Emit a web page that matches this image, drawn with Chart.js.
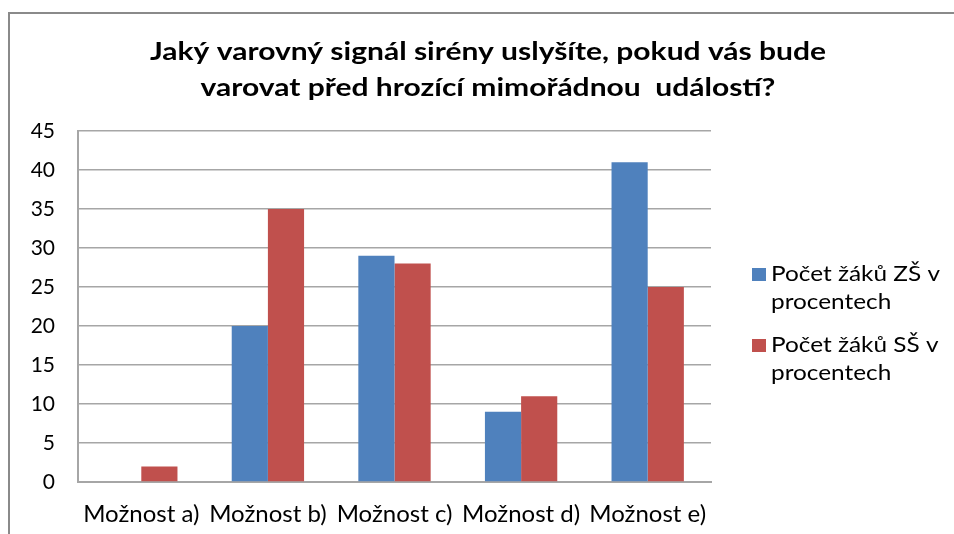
<!DOCTYPE html>
<html><head><meta charset="utf-8">
<script src="https://cdn.jsdelivr.net/npm/chart.js@4/dist/chart.umd.min.js"></script>
<style>html,body{margin:0;padding:0;background:#fff}#wrap{width:954px;height:534px;position:relative}</style>
</head><body><div id="wrap"><canvas id="c" width="954" height="534"></canvas></div>
<script>
const categories = ["Možnost a)", "Možnost b)", "Možnost c)", "Možnost d)", "Možnost e)"];
const zsValues = [0, 20, 29, 9, 41];
const ssValues = [2, 35, 28, 11, 25];
const seriesNames = [["Počet žáků ZŠ v", "procentech"], ["Počet žáků SŠ v", "procentech"]];
const titleLines = ["Jaký varovný signál sirény uslyšíte, pokud vás bude", "varovat před hrozící mimořádnou  událostí?"];
const yTicks = [0, 5, 10, 15, 20, 25, 30, 35, 40, 45];

const FONT = "Lato, 'Open Sans', sans-serif";

function scaledText(ctx, text, x, y, sx, align) {
  ctx.save();
  ctx.translate(x, y);
  ctx.scale(sx, 1);
  ctx.textAlign = align;
  ctx.fillText(text, 0, 0);
  ctx.restore();
}

const decor = {
  id: 'decor',
  beforeDraw(chart) {
    const ctx = chart.ctx;
    ctx.save();
    ctx.strokeStyle = '#8a8a8a';
    ctx.lineWidth = 2;
    ctx.beginPath();
    ctx.moveTo(9, 540); ctx.lineTo(9, 13); ctx.lineTo(960, 13);
    ctx.stroke();
    ctx.restore();
  },
  afterDraw(chart) {
    const ctx = chart.ctx;
    ctx.save();
    ctx.fillStyle = '#000';
    ctx.textBaseline = 'alphabetic';
    ctx.font = "bold 24px " + FONT;
    scaledText(ctx, titleLines[0], 488, 60, 1.25, 'center');
    scaledText(ctx, titleLines[1], 488, 96, 1.25, 'center');
    // legend
    ctx.font = "21px " + FONT;
    const starts = [281, 352];
    chart.data.datasets.forEach((ds, i) => {
      const y0 = starts[i];
      ctx.fillStyle = ds.backgroundColor;
      ctx.fillRect(752, y0 - 13, 14, 13);
      ctx.fillStyle = '#000';
      seriesNames[i].forEach((line, j) => scaledText(ctx, line, 771, y0 + j * 28, 1.16, 'left'));
    });
    ctx.restore();
  }
};

new Chart(document.getElementById('c'), {
  type: 'bar',
  data: {
    labels: categories,
    datasets: [
      { label: seriesNames[0].join(' '), data: zsValues, backgroundColor: '#4F81BD' },
      { label: seriesNames[1].join(' '), data: ssValues, backgroundColor: '#C0504D' }
    ]
  },
  options: {
    responsive: false,
    animation: false,
    events: [],
    layout: { padding: { left: 8, right: 243, top: 131, bottom: 0 } },
    plugins: { legend: { display: false }, title: { display: false }, tooltip: { enabled: false } },
    datasets: { bar: { categoryPercentage: 2 / 3.5, barPercentage: 1 } },
    scales: {
      x: {
        grid: { display: false, drawTicks: false },
        border: { color: '#a6a6a6', width: 2 },
        ticks: { color: '#000', font: { family: FONT, size: 24 }, padding: 18, maxRotation: 0, autoSkip: false },
        afterFit(s) { s.height = 52; }
      },
      y: {
        min: 0, max: 45,
        afterBuildTicks(s) { s.ticks = yTicks.map(v => ({ value: v })); },
        grid: { color: '#a6a6a6', lineWidth: 1.5, drawTicks: false },
        border: { color: '#a6a6a6', width: 2 },
        ticks: { color: '#000', font: { family: FONT, size: 21 }, padding: 23 },
        afterFit(s) { s.width = 70; }
      }
    }
  },
  plugins: [decor]
});
</script></body></html>
